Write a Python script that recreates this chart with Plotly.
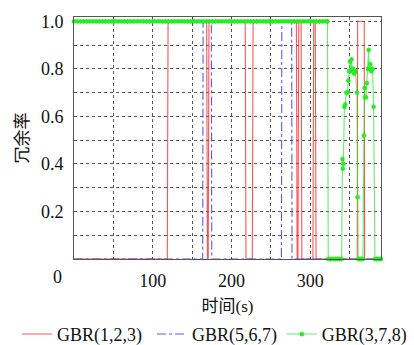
import plotly.graph_objects as go

# ---- data ----
red_t = [0, 118.5, 119.5, 168.5, 169.5, 170.5, 171.5, 217.5, 218.5, 226.5, 227.5,
         282.5, 283.5, 284.5, 285.5, 288.5, 289.5, 303.5, 304.5, 306.5, 307.5,
         359.8, 360.3, 368.7, 369.2, 390]
red_v = [0, 0, 1, 1, 0, 0, 1, 1, 0, 0, 1,
         1, 0, 0, 1, 1, 0, 0, 1, 1, 0,
         0, 1, 1, 0, 0]

blue_t = [0, 163.5, 164, 174.5, 175, 263.5, 264, 276.5, 277, 390]
blue_v = [0, 0, 1, 1, 0, 0, 1, 1, 0, 0]

green_t = [0, 4, 8, 12, 16, 20, 24, 28, 32, 36, 40, 44, 48, 52, 56, 60, 64, 68, 72, 76,
           80, 84, 88, 92, 96, 100, 104, 108, 112, 116, 120, 124, 128, 132, 136, 140,
           144, 148, 152, 156, 160, 164, 168, 172, 176, 180, 184, 188, 192, 196, 200,
           204, 208, 212, 216, 220, 224, 228, 232, 236, 240, 244, 248, 252, 256, 260,
           264, 268, 272, 276, 280, 284, 288, 292, 296, 300, 304, 308, 312, 316, 320, 322,
           323, 326, 329, 332, 335, 338, 340,
           341, 341.5, 342.2, 343.5, 344.5, 346, 347.5, 348.5, 349.5, 350.5, 351.5,
           352.5, 353.5, 354.5, 356, 357.5, 359.5, 360.3,
           361, 363, 365, 367,
           368.4, 369.2, 369.6, 371, 372.2, 373.5, 374.3, 375, 376.4, 377.5, 379.3, 380.6,
           382.3, 384.5, 386.5, 388.5, 390]
green_v = [1, 1, 1, 1, 1, 1, 1, 1, 1, 1, 1, 1, 1, 1, 1, 1, 1, 1, 1, 1,
           1, 1, 1, 1, 1, 1, 1, 1, 1, 1, 1, 1, 1, 1, 1, 1,
           1, 1, 1, 1, 1, 1, 1, 1, 1, 1, 1, 1, 1, 1, 1,
           1, 1, 1, 1, 1, 1, 1, 1, 1, 1, 1, 1, 1, 1, 1,
           1, 1, 1, 1, 1, 1, 1, 1, 1, 1, 1, 1, 1, 1, 1, 1,
           0, 0, 0, 0, 0, 0, 0,
           0.42, 0.38, 0.40, 0.64, 0.65, 0.70, 0.70, 0.75, 0.79, 0.83, 0.79,
           0.84, 0.80, 0.80, 0.78, 0.79, 0.70, 0.26,
           0, 0, 0, 0,
           0.52, 0.72, 0.68, 0.68, 0.74, 0.80, 0.88, 0.80, 0.82, 0.79, 0.80, 0.64,
           0, 0, 0, 0, 0]

series_names = ["GBR(1,2,3)", "GBR(5,6,7)", "GBR(3,7,8)"]
x_ticks = [100, 200, 300]
y_ticks = [0.2, 0.4, 0.6, 0.8, 1.0]
y_tick_text = ["0.2", "0.4", "0.6", "0.8", "1.0"]

FONT = "Times New Roman, Liberation Serif, Noto Sans CJK SC"

fig = go.Figure()
fig.add_trace(go.Scatter(x=red_t, y=red_v, mode="lines", name=series_names[0],
                         line=dict(color="rgba(255,40,40,0.8)", width=1.1),
                         cliponaxis=False, legend="legend"))
fig.add_trace(go.Scatter(x=blue_t, y=blue_v, mode="lines", name=series_names[1],
                         line=dict(color="rgba(60,60,255,0.85)", width=1.1, dash="dashdot"),
                         legend="legend2"))
fig.add_trace(go.Scatter(x=green_t, y=green_v, mode="lines+markers", name=series_names[2],
                         line=dict(color="rgba(40,230,40,0.7)", width=1.1),
                         marker=dict(symbol="asterisk-open", size=4, color="#22ee22",
                                     line=dict(color="#22ee22", width=1.2)),
                         cliponaxis=False, legend="legend3"))

fig.update_xaxes(range=[0, 390], tickvals=x_ticks,
                 showgrid=True, gridcolor="#555", griddash="dot", gridwidth=1,
                 minor=dict(dtick=50, tick0=0, showgrid=True, gridcolor="#555",
                            griddash="dot", gridwidth=1),
                 showline=True, linecolor="#555", linewidth=1, mirror=True,
                 zeroline=False, ticks="", ticklabelstandoff=5,
                 tickfont=dict(family=FONT, size=18, color="#111"),
                 title=dict(text="时间(s)", font=dict(family=FONT, size=17, color="#111"),
                            standoff=10))
fig.update_yaxes(range=[0, 1.018], tickvals=y_ticks, ticktext=y_tick_text,
                 showgrid=True, gridcolor="#555", griddash="dot", gridwidth=1,
                 minor=dict(dtick=0.1, tick0=0, showgrid=True, gridcolor="#555",
                            griddash="dot", gridwidth=1),
                 showline=True, linecolor="#555", linewidth=1, mirror=True,
                 zeroline=False, ticks="", ticklabelstandoff=6,
                 tickfont=dict(family=FONT, size=18, color="#111"),
                 title=dict(text="冗余率", font=dict(family="Noto Sans CJK SC", size=17, color="#111"),
                            standoff=12))

fig.add_annotation(text="0", xref="paper", yref="paper", x=-0.055, y=-0.074,
                   showarrow=False, xanchor="center", yanchor="middle",
                   font=dict(family=FONT, size=18, color="#111"))

leg_common = dict(orientation="h", xanchor="left", yanchor="top", y=-0.235,
                  font=dict(family=FONT, size=18, color="#111"),
                  bgcolor="rgba(0,0,0,0)", itemwidth=30)

fig.update_layout(
    width=406, height=337,
    margin=dict(l=66, r=33, t=9, b=86, autoexpand=False),
    paper_bgcolor="white", plot_bgcolor="white",
    showlegend=True,
    legend=dict(x=-0.186, **leg_common),
    legend2=dict(x=0.254, **leg_common),
    legend3=dict(x=0.677, **leg_common),
)

fig.write_html("out.html")
